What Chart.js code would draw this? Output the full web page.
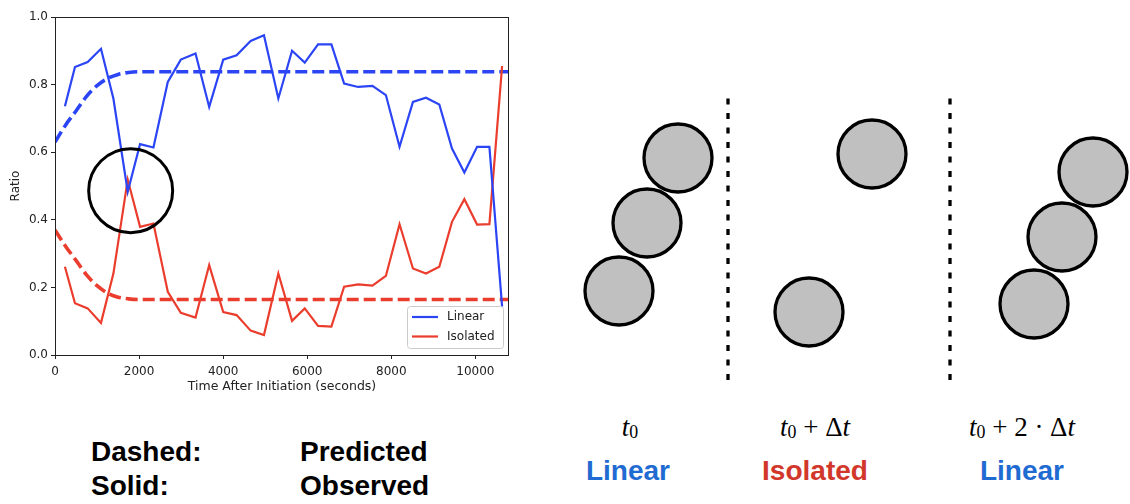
<!DOCTYPE html>
<html>
<head>
<meta charset="utf-8">
<script src="https://cdn.jsdelivr.net/npm/chart.js@4.4.1/dist/chart.umd.min.js"></script>
<style>
  body { margin: 0; background: #fff; }
  #page { position: relative; width: 1130px; height: 504px; overflow: hidden; background: #fff; }
  #ratioBox { position: absolute; left: 0; top: 0; width: 520px; height: 400px; }
  #diagramBox { position: absolute; left: 560px; top: 60px; width: 570px; height: 340px; }
  .key { position: absolute; font-family: "Liberation Sans", Arial, sans-serif; font-weight: bold;
         font-size: 28px; line-height: 28px; color: #000; white-space: nowrap; }
  .time { position: absolute; width: 240px; text-align: center; font-family: "Liberation Serif", "DejaVu Serif", serif;
          font-size: 27px; line-height: 27px; color: #000; white-space: nowrap; }
  .time i { font-style: italic; }
  .time .s { font-size: 0.66em; position: relative; top: 0.14em; }
  .state { position: absolute; width: 240px; text-align: center; font-family: "Liberation Sans", Arial, sans-serif;
           font-weight: bold; font-size: 28px; line-height: 28px; white-space: nowrap; }
</style>
</head>
<body>
<div id="page">
  <div id="ratioBox"><canvas id="ratioChart" width="520" height="400"></canvas></div>
  <div id="diagramBox"><canvas id="diagramChart" width="570" height="340"></canvas></div>

  <div class="key" style="left:91px; top:438px;">Dashed:</div>
  <div class="key" style="left:300px; top:438px;">Predicted</div>
  <div class="key" style="left:91px; top:472px;">Solid:</div>
  <div class="key" style="left:300px; top:472px;">Observed</div>

  <div class="time" style="left:510px; top:414px;"><i>t</i><span class="s">0</span></div>
  <div class="time" style="left:695px; top:414px;"><i>t</i><span class="s">0</span> + Δ<i>t</i></div>
  <div class="time" style="left:902px; top:414px;"><i>t</i><span class="s">0</span> + 2 · Δ<i>t</i></div>

  <div class="state" style="left:508px; top:457px; color:#1f6bd2;">Linear</div>
  <div class="state" style="left:695px; top:457px; color:#d2372b;">Isolated</div>
  <div class="state" style="left:902px; top:457px; color:#1f6bd2;">Linear</div>
</div>

<script>
// ---- Data ----
const obsTimes = [236, 475, 777, 1094, 1389, 1730, 2024, 2342, 2683, 2993, 3343, 3668, 4002, 4320, 4654,
  4971, 5313, 5639, 5941, 6258, 6575, 6878, 7212, 7552, 7871, 8196, 8515, 8825, 9142, 9444, 9738,
  10041, 10334, 10636];
const linearObserved = [0.736, 0.852, 0.867, 0.906, 0.759, 0.483, 0.624, 0.614, 0.808, 0.874, 0.892,
  0.734, 0.874, 0.887, 0.929, 0.946, 0.759, 0.900, 0.865, 0.919, 0.919, 0.803, 0.793, 0.796, 0.769,
  0.616, 0.749, 0.761, 0.741, 0.611, 0.540, 0.616, 0.616, 0.143];
const isolatedObserved = [0.261, 0.153, 0.138, 0.095, 0.241, 0.519, 0.379, 0.389, 0.187, 0.125, 0.111,
  0.266, 0.127, 0.118, 0.072, 0.059, 0.241, 0.101, 0.138, 0.086, 0.084, 0.202, 0.209, 0.205, 0.234,
  0.387, 0.256, 0.241, 0.261, 0.394, 0.461, 0.386, 0.387, 0.855];

const predTimes = [0, 250, 500, 750, 1000, 1250, 1500, 1750, 2000, 10800];
const linearPredicted = [0.63, 0.68, 0.722, 0.765, 0.797, 0.818, 0.83, 0.836, 0.838, 0.838];
const isolatedPredicted = [0.37, 0.322, 0.28, 0.237, 0.205, 0.183, 0.171, 0.166, 0.164, 0.164];

// highlighted transition (circled on the plot)
const highlightTime = [1800];
const highlightRatio = [0.486];

const xTicks = [0, 2000, 4000, 6000, 8000, 10000];
const yTicks = [0, 0.2, 0.4, 0.6, 0.8, 1.0];

// schematic: particle centres (diagram units) and frame dividers
const particleX = [11.8, 8.7, 5.9, 24.9, 31.2, 53.3, 50.2, 47.4];
const particleY = [24.2, 17.7, 10.9, 8.8, 24.6, 22.8, 16.3, 9.6];
const dividerX = [16.8, 39.0];
const dividerSpan = [2.0, 30.5];

const BLUE = "#2b45f5";
const RED = "#eb3d2d";
const INK = "#222";

Chart.defaults.font.family = "'DejaVu Sans', sans-serif";
Chart.defaults.font.size = 12;
Chart.defaults.color = INK;

const pts = (xs, ys) => xs.map((x, i) => ({ x, y: ys[i] }));

// box around the plot area + legend inside lower right, matplotlib-like
const frameBox = {
  id: "frameBox",
  afterDraw(chart) {
    const { ctx, chartArea: a } = chart;
    ctx.save();
    ctx.strokeStyle = INK;
    ctx.lineWidth = 1;
    ctx.strokeRect(a.left + 0.5, a.top + 0.5, a.right - a.left - 1, a.bottom - a.top);

    const items = chart.data.datasets.filter(d => d.inLegend);
    const w = 96, h = 42;
    const x0 = a.right - 6 - w, y0 = a.bottom - 7 - h;
    ctx.fillStyle = "rgba(255,255,255,0.85)";
    ctx.strokeStyle = "#cccccc";
    ctx.beginPath();
    ctx.roundRect(x0 + 0.5, y0 + 0.5, w, h, 3);
    ctx.fill();
    ctx.stroke();
    ctx.font = "12px 'DejaVu Sans', sans-serif";
    ctx.textBaseline = "middle";
    items.forEach((d, i) => {
      const y = y0 + 11 + i * 19.5;
      ctx.strokeStyle = d.borderColor;
      ctx.lineWidth = 2.2;
      ctx.beginPath();
      ctx.moveTo(x0 + 5, y);
      ctx.lineTo(x0 + 31, y);
      ctx.stroke();
      ctx.fillStyle = INK;
      ctx.fillText(d.label, x0 + 40, y);
    });
    ctx.restore();
  }
};

new Chart(document.getElementById("ratioChart"), {
  type: "line",
  data: {
    datasets: [
      {
        label: "highlight", type: "scatter", data: pts(highlightTime, highlightRatio),
        pointRadius: 42, pointBorderWidth: 3, pointBorderColor: "#000",
        pointBackgroundColor: "rgba(0,0,0,0)", clip: false
      },
      {
        label: "Linear", inLegend: true, data: pts(obsTimes, linearObserved),
        borderColor: BLUE, borderWidth: 2.2, pointRadius: 0, tension: 0
      },
      {
        label: "Isolated", inLegend: true, data: pts(obsTimes, isolatedObserved),
        borderColor: RED, borderWidth: 2.2, pointRadius: 0, tension: 0
      },
      {
        label: "Linear (predicted)", data: pts(predTimes, linearPredicted),
        borderColor: BLUE, borderWidth: 3.6, borderDash: [12, 5], pointRadius: 0,
        cubicInterpolationMode: "monotone"
      },
      {
        label: "Isolated (predicted)", data: pts(predTimes, isolatedPredicted),
        borderColor: RED, borderWidth: 3.6, borderDash: [12, 5], pointRadius: 0,
        cubicInterpolationMode: "monotone"
      }
    ]
  },
  options: {
    responsive: false,
    animation: false,
    events: [],
    layout: { autoPadding: false, padding: { top: 17, right: 11, left: 0, bottom: 0 } },
    plugins: { legend: { display: false }, tooltip: { enabled: false } },
    scales: {
      x: {
        type: "linear", min: 0, max: 10800,
        afterBuildTicks: s => { s.ticks = xTicks.map(v => ({ value: v })); },
        afterFit: s => { s.height = 45; },
        grid: { drawOnChartArea: false, drawTicks: true, tickLength: 4, color: INK },
        border: { display: false },
        ticks: { padding: 6, maxRotation: 0, callback: v => String(v) },
        title: { display: true, text: "Time After Initiation (seconds)", font: { size: 12.5 },
                 padding: { top: 0, bottom: 6 } }
      },
      y: {
        type: "linear", min: 0, max: 1,
        afterBuildTicks: s => { s.ticks = yTicks.map(v => ({ value: v })); },
        afterFit: s => { s.width = 55; },
        grid: { drawOnChartArea: false, drawTicks: true, tickLength: 4, color: INK },
        border: { display: false },
        ticks: { padding: 3, callback: v => v.toFixed(1) },
        title: { display: true, text: "Ratio", padding: { top: 9, bottom: 0 } }
      }
    }
  },
  plugins: [frameBox]
});

// ---- schematic of particle configurations ----
new Chart(document.getElementById("diagramChart"), {
  type: "scatter",
  data: {
    datasets: [
      ...dividerX.map(x => ({
        data: dividerSpan.map(y => ({ x, y })),
        showLine: true, borderColor: "#000", borderWidth: 3.3, borderDash: [6, 8.5],
        pointRadius: 0, clip: false
      })),
      {
        data: pts(particleX, particleY),
        pointRadius: 34, pointBorderWidth: 3.3, pointBorderColor: "#000",
        pointBackgroundColor: "#c0c0c0", clip: false
      }
    ]
  },
  options: {
    responsive: false,
    animation: false,
    events: [],
    layout: { autoPadding: false, padding: 0 },
    plugins: { legend: { display: false }, tooltip: { enabled: false } },
    scales: {
      x: { type: "linear", min: 0, max: 57, display: false },
      y: { type: "linear", min: 0, max: 34, display: false }
    }
  }
});
</script>
</body>
</html>
